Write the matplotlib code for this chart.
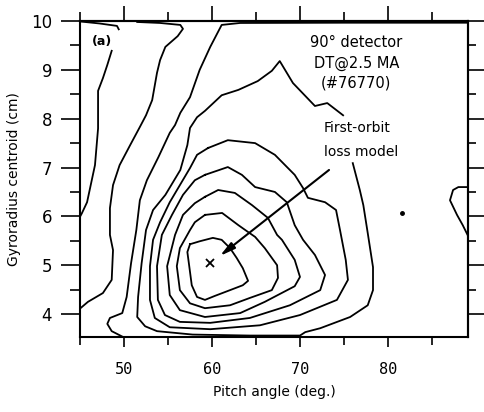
import matplotlib.pyplot as plt
from matplotlib.ticker import MultipleLocator

# contour lines, (pitch angle deg, gyroradius cm)
c1_top = [(45.05, 9.99), (47.2, 9.95), (49.2, 9.9), (49.4, 9.83)]
c1 = [(48.6, 9.39), (48.1, 9.1), (47.6, 8.83), (47.05, 8.57), (47.05, 7.8),
      (46.7, 7.05), (45.8, 6.29), (45.2, 6.06), (45.02, 6.0)]
c2 = [(51.5, 9.98), (54.1, 9.96), (56.4, 9.92), (56.7, 9.84), (56.1, 9.69),
      (54.7, 9.47), (54.1, 9.2), (53.75, 8.94), (53.2, 8.38), (52.5, 8.07),
      (51.8, 7.83), (50.7, 7.46), (49.5, 7.05), (48.75, 6.64), (48.4, 6.17),
      (48.4, 5.62), (48.75, 5.31), (48.6, 4.7), (47.6, 4.43), (45.9, 4.25),
      (45.05, 4.12)]
c3 = [(88.9, 9.965), (75.0, 9.965), (63.2, 9.96), (61.1, 9.92), (59.8, 9.47),
      (58.6, 9.0), (57.5, 8.44), (56.4, 8.12), (55.8, 7.87), (55.2, 7.71),
      (53.9, 7.21), (52.6, 6.74), (51.8, 6.33), (51.4, 5.72), (50.8, 5.04),
      (50.3, 4.35), (49.8, 4.02), (48.4, 3.92), (48.1, 3.8), (48.6, 3.65),
      (49.9, 3.53)]
c3_right = [(89.05, 6.6), (88.0, 6.6), (87.4, 6.54), (87.05, 6.33), (87.85, 6.03),
            (88.5, 5.82), (89.05, 5.62)]
c4 = [(76.0, 7.09), (76.8, 6.54), (77.2, 6.23), (77.7, 5.66), (78.3, 4.96),
      (78.3, 4.49), (77.7, 4.18), (75.7, 3.94), (72.3, 3.71), (70.6, 3.63),
      (70.0, 3.56), (64.3, 3.56), (57.8, 3.58), (53.75, 3.65), (52.4, 3.75),
      (51.5, 3.94), (51.6, 4.35), (52.0, 5.04), (52.5, 5.72), (53.3, 6.13),
      (54.7, 6.44), (56.4, 6.95), (57.2, 7.46), (57.5, 7.81), (58.3, 8.03),
      (59.2, 8.16), (61.1, 8.48), (63.0, 8.59), (65.2, 8.77), (66.8, 8.98),
      (67.7, 9.18), (69.2, 8.73), (71.7, 8.26), (73.1, 8.32), (74.9, 8.07)]
c5 = [(59.55, 7.4), (58.3, 7.26), (57.5, 6.99), (56.35, 6.64), (55.2, 6.29),
      (54.1, 5.88), (53.3, 5.52), (52.95, 4.98), (52.95, 4.29), (53.5, 3.92),
      (55.2, 3.73), (59.8, 3.69), (65.45, 3.77), (70.0, 3.98), (74.2, 4.29),
      (75.45, 4.7), (75.2, 5.11), (74.55, 5.72), (74.1, 6.13), (72.85, 6.29),
      (70.9, 6.38), (70.35, 6.58), (69.4, 6.85), (67.15, 7.26), (64.9, 7.5),
      (61.8, 7.56), (59.55, 7.4)]
c6 = [(59.2, 6.85), (58.05, 6.74), (56.7, 6.44), (55.45, 6.03), (54.3, 5.62),
      (53.75, 4.98), (53.85, 4.29), (54.65, 3.98), (56.35, 3.84), (59.8, 3.82),
      (64.3, 3.92), (68.85, 4.18), (72.3, 4.49), (72.85, 4.8), (71.7, 5.21),
      (70.35, 5.52), (69.4, 5.82), (68.5, 6.29), (67.15, 6.5), (64.9, 6.6),
      (63.4, 6.85), (61.8, 7.01), (59.2, 6.85)]
c7 = [(59.2, 6.4), (58.05, 6.27), (56.7, 6.03), (55.8, 5.62), (54.9, 4.98),
      (55.2, 4.39), (56.35, 4.08), (59.2, 3.94), (63.2, 4.02), (66.0, 4.25),
      (69.4, 4.57), (70.0, 4.76), (69.4, 5.11), (67.95, 5.52), (67.4, 5.62),
      (66.35, 5.97), (64.55, 6.23), (62.6, 6.48), (60.7, 6.54), (59.2, 6.4)]
c8 = [(59.2, 6.03), (58.05, 5.88), (57.5, 5.72), (56.35, 5.35), (56.0, 4.98),
      (56.35, 4.49), (57.5, 4.22), (59.2, 4.12), (62.05, 4.18), (64.3, 4.33),
      (66.8, 4.49), (67.5, 4.74), (67.4, 5.0), (66.0, 5.35), (64.9, 5.58),
      (64.1, 5.68), (63.0, 5.82), (61.15, 6.07), (59.2, 6.03)]
c9 = [(57.5, 5.43), (58.6, 5.49), (60.1, 5.56), (61.1, 5.52), (62.05, 5.35),
      (62.8, 5.15), (63.5, 4.94), (64.1, 4.68), (63.5, 4.59), (62.05, 4.49),
      (60.3, 4.37), (59.2, 4.29), (58.3, 4.35), (57.7, 4.59), (57.4, 5.0),
      (57.2, 5.27), (57.5, 5.43)]
contours = [c1_top, c1, c2, c3, c3_right, c4, c5, c6, c7, c8, c9]

model_peak = (59.8, 5.04)
arrow_tail = (73.3, 6.95)
arrow_head = (60.9, 5.19)
stray_dot = (81.6, 6.07)

x_major = [50, 60, 70, 80]
y_major = [4, 5, 6, 7, 8, 9, 10]

fig = plt.figure(figsize=(4.85, 4.12), dpi=100)
ax = fig.add_axes([0.165, 0.182, 0.800, 0.767])

for line in contours:
    xs = [p[0] for p in line]
    ys = [p[1] for p in line]
    ax.plot(xs, ys, color='black', lw=1.3, solid_joinstyle='round')

ax.plot(*model_peak, marker='x', ms=6, mew=1.3, color='black')
ax.plot(*stray_dot, marker='o', ms=2.5, color='black')
ax.annotate('', xy=arrow_head, xytext=arrow_tail,
            arrowprops=dict(arrowstyle='-|>,head_length=0.9,head_width=0.22',
                            color='black', lw=1.5, shrinkA=0, shrinkB=0))

ax.text(47.5, 9.59, '(a)', fontsize=9, fontweight='bold', ha='center', va='center')
ax.text(76.4, 9.57, '90° detector', fontsize=10.5, ha='center', va='center')
ax.text(76.5, 9.14, 'DT@2.5 MA', fontsize=10.5, ha='center', va='center')
ax.text(76.4, 8.73, '(#76770)', fontsize=10.5, ha='center', va='center')
ax.text(76.5, 7.81, 'First-orbit', fontsize=10, ha='center', va='center')
ax.text(76.9, 7.32, 'loss model', fontsize=10, ha='center', va='center')

ax.set_xlim(45, 89.1)
ax.set_ylim(3.53, 10.0)
ax.set_xticks(x_major)
ax.set_xticklabels([str(v) for v in x_major], family='DejaVu Sans Mono', fontsize=11)
ax.xaxis.set_minor_locator(MultipleLocator(5))
ax.set_yticks(y_major)
ax.set_yticklabels([str(v) for v in y_major], fontsize=12)
ax.yaxis.set_minor_locator(MultipleLocator(0.5))

ax.tick_params(axis='x', which='major', direction='out', length=7, width=1.2, pad=11)
ax.tick_params(axis='x', which='minor', direction='out', length=5.5, width=1.2)
ax.tick_params(axis='y', which='major', direction='out', length=14, width=1.2, pad=6)
ax.tick_params(axis='y', which='minor', direction='out', length=7, width=1.2)

top = ax.secondary_xaxis('top')
top.set_xticks(x_major)
top.xaxis.set_minor_locator(MultipleLocator(5))
top.tick_params(which='major', direction='out', length=11, width=1.2, labeltop=False)
top.tick_params(which='minor', direction='out', length=6.5, width=1.2)
right = ax.secondary_yaxis('right')
right.set_yticks(y_major)
right.yaxis.set_minor_locator(MultipleLocator(0.5))
right.tick_params(which='major', direction='out', length=12, width=1.2, labelright=False)
right.tick_params(which='minor', direction='out', length=6, width=1.2)

for sp in list(ax.spines.values()) + [top.spines['top'], right.spines['right']]:
    sp.set_linewidth(1.5)

ax.set_xlabel('Pitch angle (deg.)', fontsize=10, labelpad=6)
ax.set_ylabel('Gyroradius centroid (cm)', fontsize=10, labelpad=7)

fig.savefig('out.png', dpi=100)
